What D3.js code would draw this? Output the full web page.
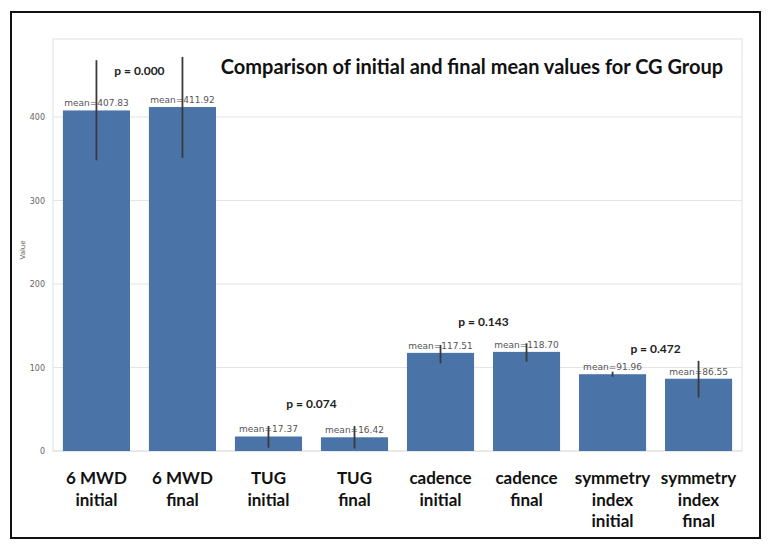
<!DOCTYPE html>
<html>
<head>
<meta charset="utf-8">
<script src="https://cdn.jsdelivr.net/npm/d3@7"></script>
<style>
  body { margin: 0; background: #fff; }
</style>
</head>
<body>
<svg id="chart" width="772" height="550"></svg>
<script>
// Bar categories (one line per entry)
const categories = [
  ["6 MWD", "initial"], ["6 MWD", "final"],
  ["TUG", "initial"], ["TUG", "final"],
  ["cadence", "initial"], ["cadence", "final"],
  ["symmetry", "index", "initial"], ["symmetry", "index", "final"]
];

// Mean values and error bar ends
const means   = [407.83, 411.92, 17.37, 16.42, 117.51, 118.70, 91.96, 86.55];
const errLow  = [348, 351, 4, 3, 105, 107, 89, 64];
const errHigh = [468, 472, 30, 30, 127, 129, 95, 108];

// p-values for each initial/final pair and the level they sit at
const pValues = ["0.000", "0.074", "0.143", "0.472"];
const pLevels = [450, 52, 150, 117];

const yTicks = [0, 100, 200, 300, 400];

const svg = d3.select("#chart"),
      width = +svg.attr("width"),
      height = +svg.attr("height");

const plot = { left: 53, right: 742, top: 39, bottom: 451 };

// outer frame
svg.append("rect")
  .attr("x", 11).attr("y", 12)
  .attr("width", 749).attr("height", 526)
  .attr("fill", "#fff")
  .attr("stroke", "#111")
  .attr("stroke-width", 2);

const x = d3.scaleBand()
  .domain(d3.range(categories.length))
  .range([plot.left, plot.right])
  .paddingInner(0.22)
  .paddingOuter(0.115);

const y = d3.scaleLinear()
  .domain([0, 493.4])
  .range([plot.bottom, plot.top]);

// grid
svg.append("g")
  .selectAll("line")
  .data(yTicks)
  .enter()
  .append("line")
  .attr("x1", plot.left)
  .attr("x2", plot.right)
  .attr("y1", d => y(d))
  .attr("y2", d => y(d))
  .attr("stroke", "#e4e4e4")
  .attr("stroke-width", 1.2);

// plot area border
svg.append("rect")
  .attr("x", plot.left).attr("y", plot.top)
  .attr("width", plot.right - plot.left)
  .attr("height", plot.bottom - plot.top)
  .attr("fill", "none")
  .attr("stroke", "#e0e0e0");

// Y axis
const yAxis = svg.append("g")
  .attr("transform", `translate(${plot.left},0)`)
  .call(d3.axisLeft(y).tickValues(yTicks).tickSize(0).tickPadding(8));
yAxis.select(".domain").remove();
yAxis.selectAll("text")
  .attr("fill", "#666")
  .style("font-family", "DejaVu Sans")
  .style("font-size", "8px");

svg.append("text")
  .attr("transform", "rotate(-90)")
  .attr("x", -250)
  .attr("y", 25)
  .attr("text-anchor", "middle")
  .attr("fill", "#666")
  .style("font-family", "DejaVu Sans")
  .style("font-size", "7px")
  .text("Value");

// Bars
svg.selectAll(".bar")
  .data(means)
  .enter()
  .append("rect")
  .attr("class", "bar")
  .attr("x", (d, i) => x(i))
  .attr("y", d => y(d))
  .attr("width", x.bandwidth())
  .attr("height", d => y(0) - y(d))
  .attr("fill", "#4a73a7");

// mean labels
svg.selectAll(".mean-label")
  .data(means)
  .enter()
  .append("text")
  .attr("class", "mean-label")
  .attr("x", (d, i) => x(i) + x.bandwidth() / 2)
  .attr("y", d => y(d) - 4)
  .attr("text-anchor", "middle")
  .attr("fill", "#555")
  .style("font-family", "DejaVu Sans")
  .style("font-size", "9px")
  .text(d => "mean=" + d.toFixed(2));

// error bars
svg.selectAll(".err")
  .data(means)
  .enter()
  .append("line")
  .attr("class", "err")
  .attr("x1", (d, i) => x(i) + x.bandwidth() / 2)
  .attr("x2", (d, i) => x(i) + x.bandwidth() / 2)
  .attr("y1", (d, i) => y(errLow[i]))
  .attr("y2", (d, i) => y(errHigh[i]))
  .attr("stroke", "#3a3a3a")
  .attr("stroke-width", 1.8);

// p-values between each pair
svg.selectAll(".pval")
  .data(pValues)
  .enter()
  .append("text")
  .attr("class", "pval")
  .attr("x", (d, i) => (x(2 * i) + x(2 * i + 1) + x.bandwidth()) / 2)
  .attr("y", (d, i) => y(pLevels[i]))
  .attr("text-anchor", "middle")
  .attr("fill", "#222")
  .style("font-family", "Lato")
  .style("font-weight", "bold")
  .style("font-size", "12px")
  .text(d => "p = " + d);

// category labels
const labels = svg.selectAll(".cat")
  .data(categories)
  .enter()
  .append("text")
  .attr("class", "cat")
  .attr("text-anchor", "middle")
  .attr("fill", "#111")
  .style("font-family", "Lato")
  .style("font-weight", "bold")
  .style("font-size", "17px");

labels.selectAll("tspan")
  .data((d, i) => d.map(t => ({ t, i })))
  .enter()
  .append("tspan")
  .attr("x", d => x(d.i) + x.bandwidth() / 2)
  .attr("y", (d, j) => 484 + j * 21.5)
  .text(d => d.t);

// Chart title
svg.append("text")
  .attr("x", 472)
  .attr("y", 74)
  .attr("text-anchor", "middle")
  .attr("fill", "#111")
  .style("font-family", "Lato")
  .style("font-weight", "bold")
  .style("font-size", "20px")
  .text("Comparison of initial and final mean values for CG Group");
</script>
</body>
</html>
